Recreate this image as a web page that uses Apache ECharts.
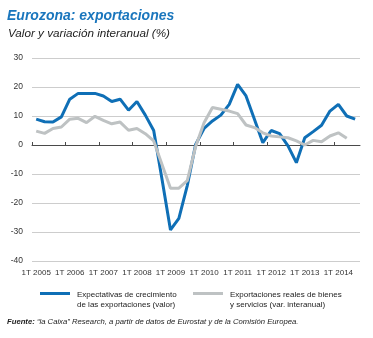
<!DOCTYPE html>
<html>
<head>
<meta charset="utf-8">
<script src="https://cdn.jsdelivr.net/npm/echarts@6/dist/echarts.min.js"></script>
<style>
  html, body { margin: 0; padding: 0; background: #fff; }
  #chart { width: 373px; height: 338px; }
</style>
</head>
<body>
<div id="chart"></div>
<script>
// Quarterly periods, 1T 2005 .. 3T 2014
const periods = [
  '1T 2005','2T 2005','3T 2005','4T 2005',
  '1T 2006','2T 2006','3T 2006','4T 2006',
  '1T 2007','2T 2007','3T 2007','4T 2007',
  '1T 2008','2T 2008','3T 2008','4T 2008',
  '1T 2009','2T 2009','3T 2009','4T 2009',
  '1T 2010','2T 2010','3T 2010','4T 2010',
  '1T 2011','2T 2011','3T 2011','4T 2011',
  '1T 2012','2T 2012','3T 2012','4T 2012',
  '1T 2013','2T 2013','3T 2013','4T 2013',
  '1T 2014','2T 2014','3T 2014'
];

// Export growth expectations (value), %
const expectativas = [
  8.9, 8.0, 7.9, 9.7,
  15.8, 17.8, 17.8, 17.8,
  16.9, 15.0, 15.8, 12.0,
  15.0, 10.3, 5.0, -12.0,
  -29.3, -25.3, -14.0, 0.2,
  5.7, 8.3, 10.3, 14.0,
  20.9, 16.9, 8.9, 0.8,
  5.0, 3.9, -0.3, -6.1,
  2.5, 4.6, 6.8, 11.7,
  14.0, 10.0, 8.9
];

// Real exports of goods and services (year-on-year change), %
const exportacionesReales = [
  4.8, 4.0, 5.7, 6.2,
  8.9, 9.2, 7.7, 9.9,
  8.5, 7.3, 7.9, 5.1,
  5.7, 3.9, 1.4, -6.8,
  -14.9, -14.9, -12.3, -0.5,
  7.7, 12.9, 12.3, 11.7,
  10.8, 6.9, 6.0, 4.2,
  3.1, 2.8, 2.5, 1.4,
  0.0, 1.6, 1.1, 3.1,
  4.2, 2.3
];

const seriesNames = ['Expectativas de crecimiento', 'Exportaciones reales de bienes'];
const legendLabels = [
  'Expectativas de crecimiento\nde las exportaciones (valor)',
  'Exportaciones reales de bienes\ny servicios (var. interanual)'
];

const tickYears = [2005, 2006, 2007, 2008, 2009, 2010, 2011, 2012, 2013, 2014];
const yTicks = [-40, -30, -20, -10, 0, 10, 20, 30];

const SANS = '"Liberation Sans", Arial, sans-serif';

// Each quarter sits at the middle of its first month on a continuous year scale
function periodToX(p) {
  const q = parseInt(p.charAt(0), 10);
  const y = parseInt(p.slice(3), 10);
  return y + (q - 1) / 4 + 0.125;
}
const xs = periods.map(periodToX);

const blueData = expectativas.map((v, i) => [xs[i], v]);
const grayData = exportacionesReales.map((v, i) => [xs[i], v]);

const xMin = 2005, xMax = 2014.77;

const legendIcon = 'path://M0,0H30V0.01H0Z M0,2H30V5H0Z M0,19.99H30V20H0Z';

const chart = echarts.init(document.getElementById('chart'), null, { renderer: 'canvas' });

chart.setOption({
  animation: false,
  backgroundColor: '#ffffff',
  title: [
    {
      text: 'Eurozona: exportaciones',
      left: 7, top: 9, padding: 0,
      textStyle: { fontFamily: SANS, fontSize: 14, fontWeight: 'bold', fontStyle: 'italic', color: '#1a76bd' }
    },
    {
      text: 'Valor y variación interanual (%)',
      left: 8, top: 28, padding: 0,
      textStyle: { fontFamily: SANS, fontSize: 11.7, fontWeight: 'normal', fontStyle: 'italic', color: '#222' }
    },
    {
      text: '{b|Fuente:} “la Caixa” Research, a partir de datos de Eurostat y de la Comisión Europea.',
      left: 7, top: 318, padding: 0,
      textStyle: {
        fontFamily: SANS, fontSize: 7.7, fontStyle: 'italic', fontWeight: 'normal', color: '#222',
        rich: { b: { fontFamily: SANS, fontSize: 7.7, fontStyle: 'italic', fontWeight: 'bold', color: '#222' } }
      }
    }
  ],
  legend: [0, 1].map(i => ({
    data: [{ name: seriesNames[i], icon: legendIcon }],
    left: i === 0 ? 40 : 193,
    top: 290,
    padding: 0,
    itemWidth: 30,
    itemHeight: 20,
    itemGap: 0,
    selectedMode: false,
    itemStyle: { borderWidth: 0 },
    formatter: () => legendLabels[i],
    textStyle: { fontFamily: SANS, fontSize: 8, lineHeight: 10, color: '#222', padding: [0, 0, 0, 2] }
  })),
  grid: { left: 32, right: 13, top: 58, bottom: 77, containLabel: false },
  xAxis: [
    {
      type: 'value', min: xMin, max: xMax, position: 'top',
      axisLine: { show: true, onZero: true, lineStyle: { color: '#4a4a4a', width: 1 } },
      axisTick: { show: true, inside: false, length: 3, customValues: tickYears, lineStyle: { color: '#4a4a4a', width: 1 } },
      axisLabel: { show: false },
      splitLine: { show: false }
    },
    {
      type: 'value', min: xMin, max: xMax, position: 'bottom',
      axisLine: { show: false, onZero: false },
      axisTick: { show: false },
      axisLabel: {
        show: true, margin: 8,
        customValues: tickYears.map(y => y + 0.125),
        formatter: v => '1T ' + Math.floor(v),
        fontFamily: SANS, fontSize: 8, color: '#333'
      },
      splitLine: { show: false }
    }
  ],
  yAxis: {
    type: 'value', min: -40, max: 30, interval: 10,
    axisLine: { show: false },
    axisTick: { show: false },
    axisLabel: { margin: 9, fontFamily: SANS, fontSize: 8.5, color: '#333', customValues: yTicks },
    splitLine: { show: true, lineStyle: { color: '#cdcdcd', width: 1 } }
  },
  series: [
    {
      name: seriesNames[0], type: 'line', xAxisIndex: 0, data: blueData,
      showSymbol: false, symbol: 'none',
      color: '#0f6fb6',
      lineStyle: { color: '#0f6fb6', width: 3 },
      z: 3
    },
    {
      name: seriesNames[1], type: 'line', xAxisIndex: 0, data: grayData,
      showSymbol: false, symbol: 'none',
      color: '#bec2c3',
      lineStyle: { color: '#bec2c3', width: 3 },
      z: 4
    }
  ]
});
</script>
</body>
</html>
